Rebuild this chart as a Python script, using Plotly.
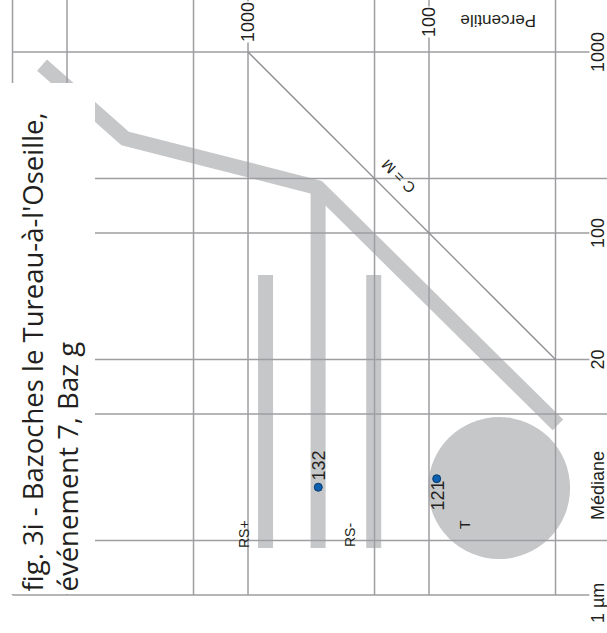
import numpy as np
import plotly.graph_objects as go

# ---------------- data (C = percentile, M = median, both in µm) ----------------
C_GRID = [20000, 10000, 2000, 1000, 200, 100, 20]
M_GRID = [1000, 200, 100, 20, 10, 2, 1]
M_LABELLED = [1000, 100, 20, 1]
M_LABEL_TEXT = ["1000", "100", "20", "1 µm"]
C_LABELLED = [1000, 100]
C_LABEL_TEXT = ["1000", "100"]

# Passega CM envelope (thick grey bands)
ENV_C = [13740, 4780, 410, 19.4]
ENV_M = [847, 333, 178, 8.7]
RS_C = [410, 410]
RS_M = [178, 1.82]
RS_PLUS_C = [800, 800]
RS_PLUS_M = [58.6, 1.82]
RS_MINUS_C = [202, 202]
RS_MINUS_M = [58.6, 1.82]
T_C = [41]
T_M = [3.9]

# C = M reference line
CM_C = [1000, 20]
CM_M = [1000, 20]

# samples
SAMPLE_NAMES = ["132", "121"]
SAMPLE_C = [409, 90.7]
SAMPLE_M = [3.94, 4.39]

# line extents
C_START = 20000
C_END_LABELLED = 13
C_END_PLAIN = 9
M_TOP = 2500
M_BOTTOM = 1

W, H = 607, 633
GRID_COL = "#9e9ea2"
BAND_COL = "#c6c7c9"
TXT = "#231f20"
FONT = "Liberation Sans, Arial"


def px(x):
    return x / W


def py(y):
    return 1 - y / H


fig = go.Figure()

# grey envelope bands
for cx, my in [(ENV_C, ENV_M), (RS_C, RS_M), (RS_PLUS_C, RS_PLUS_M), (RS_MINUS_C, RS_MINUS_M)]:
    fig.add_trace(go.Scatter(x=cx, y=my, mode="lines",
                             line=dict(color=BAND_COL, width=15),
                             hoverinfo="skip", showlegend=False))
# T circle
fig.add_trace(go.Scatter(x=T_C, y=T_M, mode="markers",
                         marker=dict(size=142, color=BAND_COL, line=dict(width=0)),
                         hoverinfo="skip", showlegend=False))

# grid lines
gx, gy = [], []
for m in M_GRID:
    end = C_END_LABELLED if m in M_LABELLED else C_END_PLAIN
    gx += [C_START, end, None]
    gy += [m, m, None]
for c in C_GRID:
    gx += [c, c, None]
    gy += [M_TOP, M_BOTTOM, None]
fig.add_trace(go.Scatter(x=gx, y=gy, mode="lines",
                         line=dict(color=GRID_COL, width=1.5),
                         hoverinfo="skip", showlegend=False))

# C = M line
fig.add_trace(go.Scatter(x=CM_C, y=CM_M, mode="lines",
                         line=dict(color="#8e8e92", width=1.3),
                         hoverinfo="skip", showlegend=False))

# samples
fig.add_trace(go.Scatter(x=SAMPLE_C, y=SAMPLE_M, mode="markers",
                         marker=dict(size=8, color="#0d5fb0",
                                     line=dict(color="#073a6e", width=1)),
                         showlegend=False))

C = dict(xanchor="center", yanchor="middle", showarrow=False)
ann = []
# right-hand median labels
for m, t in zip(M_LABELLED, M_LABEL_TEXT):
    ann.append(dict(x=px(598), xref="paper", y=np.log10(m), yref="y", text=t,
                    textangle=-90, yshift=(-8 if m == 1 else 0),
                    font=dict(size=18, color=TXT, family=FONT), **C))
ann.append(dict(x=px(598), xref="paper", y=np.log10(4), yref="y", text="Médiane",
                textangle=-90, font=dict(size=18, color=TXT, family=FONT), **C))
# top percentile labels
for c, t in zip(C_LABELLED, C_LABEL_TEXT):
    ann.append(dict(x=np.log10(c), xref="x", y=py(22), yref="paper", text=t,
                    textangle=-90, bgcolor="white", borderpad=0,
                    font=dict(size=18, color=TXT, family=FONT), **C))
ann.append(dict(x=px(498), xref="paper", y=py(20), yref="paper", text="Percentile",
                textangle=180, font=dict(size=17, color=TXT, family=FONT), **C))
# C = M
ann.append(dict(x=px(398), xref="paper", y=py(177), yref="paper", text="C = M",
                textangle=-135, font=dict(size=15, color=TXT, family=FONT), **C))
# RS labels and T
for t, x, y in [("RS+", 244, 534), ("RS-", 350, 535), ("T", 465, 525)]:
    ann.append(dict(x=px(x), xref="paper", y=py(y), yref="paper", text=t,
                    textangle=-90, font=dict(size=14, color=TXT, family=FONT), **C))
# sample labels
for n, c, m, ys in zip(SAMPLE_NAMES, SAMPLE_C, SAMPLE_M, [22, -17]):
    ann.append(dict(x=np.log10(c), xref="x", y=np.log10(m), yref="y", text=n,
                    textangle=-90, yshift=ys, xshift=1,
                    font=dict(size=18, color=TXT, family=FONT), **C))
# title
ann.append(dict(x=px(50), xref="paper", y=py(594), yref="paper",
                yanchor="bottom", xanchor="center",
                text="fig. 3i - Bazoches le Tureau-à-l'Oseille,<br>événement 7, Baz g",
                textangle=-90, showarrow=False, align="left",
                font=dict(size=27.5, color=TXT, family="Open Sans")))

fig.update_layout(
    width=W, height=H, margin=dict(l=0, r=0, t=0, b=0),
    paper_bgcolor="white", plot_bgcolor="white",
    xaxis=dict(type="log", range=[4.3702, 1.0166], visible=False),
    yaxis=dict(type="log", range=[-0.2099, 3.2873], visible=False),
    annotations=ann,
    shapes=[dict(type="rect", xref="paper", yref="paper", x0=0, x1=px(95),
                 y0=py(594), y1=py(83), fillcolor="white", line=dict(width=0),
                 layer="above")],
)

fig.write_html("out.html")
